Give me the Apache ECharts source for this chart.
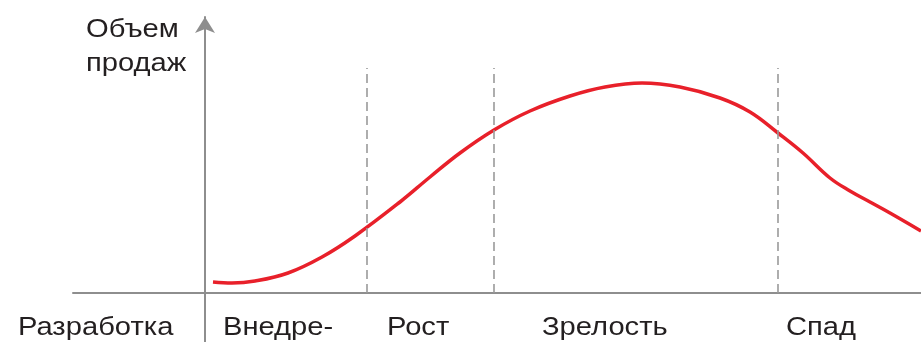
<!DOCTYPE html>
<html><head><meta charset="utf-8">
<script src="https://cdn.jsdelivr.net/npm/echarts@6/dist/echarts.min.js"></script>
<style>html,body{margin:0;padding:0;background:#fff}#c{width:921px;height:342px}</style>
</head><body><div id="c"></div>
<script>
// Time (x) and sales volume (y) samples of the life-cycle curve
const curveX = [8, 27, 50, 83, 117, 150, 195, 225, 255, 289, 325, 365, 400, 437, 475, 515, 545, 573, 598, 625, 645, 665, 685, 716];
const curveY = [11, 10, 12, 20, 36, 57, 91, 116, 140, 163, 182, 197, 206, 210, 206, 195, 181, 160, 140, 115, 102, 91, 80, 62];
// Phase boundaries (x) and phase names
const phaseBounds = [162, 289, 573];
const phaseNames = ['Разработка', 'Внедре-', 'Рост', 'Зрелость', 'Спад'];
const yAxisTitle = ['Объем', 'продаж'];

const labelLeft = [18, 223, 387, 542, 786];

const chart = echarts.init(document.getElementById('c'), null, {renderer: 'canvas'});
const FONT = '"Liberation Sans", Arial, sans-serif';
const FS = 26.5;
const SX = 1.1;
const axisColor = '#8e8e8e';

const lineData = curveX.map((x, i) => [x, curveY[i]]);
const markData = phaseBounds.map(x => [{coord: [x, 0]}, {coord: [x, 225]}]);

chart.setOption({
  animation: false,
  grid: {left: 73, right: 0, top: 17, bottom: 0, containLabel: false},
  xAxis: {
    type: 'value', min: -132, max: 716,
    axisLine: {onZero: true, lineStyle: {color: axisColor, width: 2}},
    axisTick: {show: false}, axisLabel: {show: false}, splitLine: {show: false}
  },
  yAxis: {
    type: 'value', min: -49, max: 276,
    axisLine: {onZero: true, symbol: ['none', 'arrow'], symbolSize: [15, 16],
      lineStyle: {color: axisColor, width: 2}},
    axisTick: {show: false}, axisLabel: {show: false}, splitLine: {show: false}
  },
  series: [{
    type: 'line', data: lineData, smooth: 0.4, showSymbol: false,
    lineStyle: {color: '#e8202a', width: 3.5},
    markLine: {
      silent: true, symbol: ['none', 'none'], label: {show: false},
      lineStyle: {color: '#9a9a9a', width: 1.6, type: [9, 5]},
      data: markData
    }
  }],
  graphic: [
    {type: 'text', x: 86, y: 13, scaleX: SX,
     style: {text: yAxisTitle.join('\n'), font: FS + 'px ' + FONT, fill: '#231f20', lineHeight: 34, verticalAlign: 'top', align: 'left'}}
  ].concat(phaseNames.map((n, i) => ({
    type: 'text', x: labelLeft[i], y: 314, scaleX: SX,
    style: {text: n, font: FS + 'px ' + FONT, fill: '#231f20', verticalAlign: 'top', align: 'left'}
  })))
});
</script></body></html>
